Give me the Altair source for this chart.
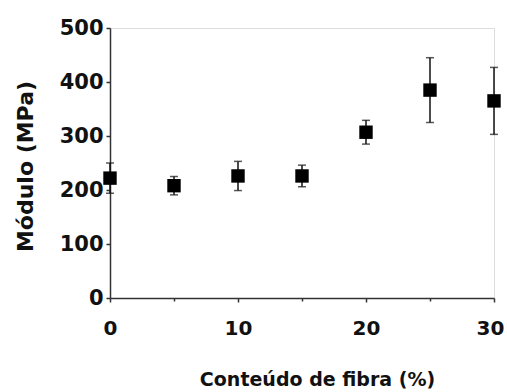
import altair as alt
import pandas as pd

fibra = [0, 5, 10, 15, 20, 25, 30]
modulo = [222, 208, 226, 226, 307, 385, 365]
erro = [28, 17, 27, 20, 22, 60, 62]

df = pd.DataFrame({"x": fibra, "y": modulo, "e": erro})
df["lo"] = df["y"] - df["e"]
df["hi"] = df["y"] + df["e"]

FONT = "DejaVu Sans"
INK = "#111111"

x_scale = alt.Scale(domain=[0, 30], nice=False)
y_scale = alt.Scale(domain=[0, 500], nice=False)

x_enc = alt.X(
    "x:Q",
    scale=x_scale,
    title="Conteúdo de fibra (%)",
    axis=alt.Axis(
        values=[0, 5, 10, 15, 20, 25, 30],
        labelExpr="datum.value % 10 == 0 ? datum.label : ''",
        tickSize={"condition": {"test": "datum.value % 10 == 0", "value": 4}, "value": 3},
        labelOffset={"condition": {"test": "datum.value == 30", "value": -4}, "value": 0},
        labelPadding=16,
        labelFont=FONT, labelFontSize=20, labelFontWeight="bold", labelColor=INK,
        titleFont=FONT, titleFontSize=19, titleFontWeight="bold", titleColor=INK,
        titleBaseline="middle", titleY=81, titleX=207,
        domainColor="#333333", domainWidth=1.5, tickColor="#333333", tickWidth=1.5,
        grid=False, labelFlush=False,
    ),
)
y_enc = alt.Y(
    "y:Q",
    scale=y_scale,
    title="Módulo (MPa)",
    axis=alt.Axis(
        values=[0, 50, 100, 150, 200, 250, 300, 350, 400, 450, 500],
        labelExpr="datum.value % 100 == 0 ? datum.label : ''",
        tickSize={"condition": {"test": "datum.value % 100 == 0", "value": 4}, "value": 3},
        labelPadding=3,
        labelFont=FONT, labelFontSize=21, labelFontWeight="bold", labelColor=INK,
        titleFont=FONT, titleFontSize=22, titleFontWeight="bold", titleColor=INK,
        titleBaseline="middle", titleX=-85, titleY=138, titleAngle=-90,
        domainColor="#333333", domainWidth=1.5, tickColor="#333333", tickWidth=1.5,
        grid=False, labelFlush=False,
    ),
)

base = alt.Chart(df)

bars = base.mark_rule(color=INK, strokeWidth=1.5).encode(x=x_enc, y=y_enc, y2="hi:Q")
bars_lo = base.mark_rule(color=INK, strokeWidth=1.5).encode(x="x:Q", y="lo:Q", y2="y:Q")
cap_hi = base.mark_tick(color=INK, orient="horizontal", size=8, thickness=1.5).encode(x="x:Q", y="hi:Q")
cap_lo = base.mark_tick(color=INK, orient="horizontal", size=8, thickness=1.5).encode(x="x:Q", y="lo:Q")
pts = base.mark_square(color="#000000", size=180, opacity=1).encode(x="x:Q", y="y:Q")

chart = (
    alt.layer(bars, bars_lo, cap_hi, cap_lo, pts)
    .properties(
        width=384, height=270,
        autosize=alt.AutoSizeParams(type="none"),
        padding={"left": 110, "top": 28, "right": 13, "bottom": 94},
    )
    .configure_view(stroke="#444444", strokeWidth=1.5)
    .configure(background="white")
)

chart.save("out.html", embed_options={"renderer": "svg", "actions": False})
